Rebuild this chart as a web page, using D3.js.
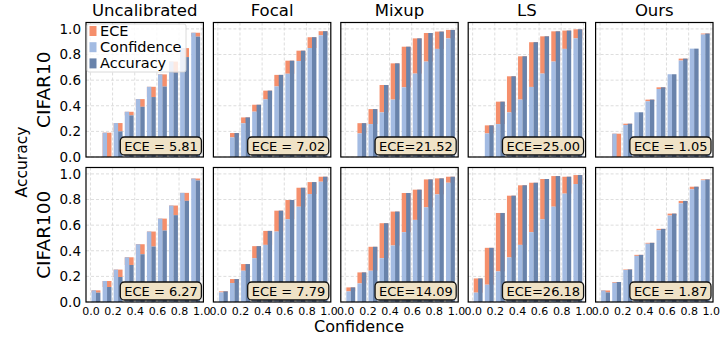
<!DOCTYPE html>
<html>
<head>
<meta charset="utf-8">
<title>Reliability diagrams</title>
<script src="https://cdn.jsdelivr.net/npm/d3@7"></script>
<style>
  body { margin: 0; background: #fff; }
  svg text { font-family: "DejaVu Sans", sans-serif; fill: #000; }
</style>
</head>
<body>
<div id="chart"></div>
<script>
// chart data
var methods = ["Uncalibrated", "Focal", "Mixup", "LS", "Ours"];
var datasets = ["CIFAR10", "CIFAR100"];
var tickVals = [0, 0.2, 0.4, 0.6, 0.8, 1.0];
var binCenters = [0.05, 0.15, 0.25, 0.35, 0.45, 0.55, 0.65, 0.75, 0.85, 0.95];

var eceC10 = ["ECE = 5.81", "ECE = 7.02", "ECE=21.52", "ECE=25.00", "ECE = 1.05"];
var eceC100 = ["ECE = 6.27", "ECE = 7.79", "ECE=14.09", "ECE=26.18", "ECE = 1.87"];

// confidence / accuracy per bin, one row per method
var confC10 = [
  [0, .19, .265, .353, .452, .548, .645, .745, .85, .97],
  [0, .153, .263, .354, .45, .551, .65, .749, .851, .95],
  [0, .184, .257, .348, .448, .544, .651, .745, .844, .926],
  [0, .184, .257, .348, .448, .547, .651, .745, .844, .926],
  [0, .182, .25, .349, .435, .531, .646, .753, .846, .956]
];
var accC10 = [
  [0, 0, .20, .325, .392, .468, .55, .66, .78, .94],
  [0, .187, .309, .408, .518, .641, .752, .83, .935, .982],
  [0, .264, .374, .562, .731, .861, .926, .968, .979, .992],
  [0, .247, .432, .63, .786, .896, .942, .981, .987, .997],
  [0, 0, .26, .349, .448, .544, .646, .768, .846, .964]
];
var confC100 = [
  [.091, .164, .253, .349, .451, .55, .651, .753, .852, .964],
  [.075, .148, .244, .342, .446, .55, .646, .744, .843, .939],
  [.083, .145, .244, .342, .441, .545, .641, .739, .84, .931],
  [.073, .135, .239, .348, .446, .545, .646, .744, .846, .921],
  [.09, .15, .25, .36, .455, .56, .675, .77, .88, .95]
];
var accC100 = [
  [.073, .117, .195, .289, .373, .433, .558, .678, .79, .949],
  [.083, .179, .296, .436, .555, .713, .796, .892, .936, .978],
  [.114, .231, .431, .615, .706, .851, .877, .957, .965, .978],
  [.184, .423, .695, .83, .911, .931, .96, .983, .978, .991],
  [.075, .156, .254, .368, .462, .571, .69, .789, .9, .957]
];

var confAll = [confC10, confC100];
var accAll = [accC10, accC100];
var eceAll = [eceC10, eceC100];

var colConf = "#a3bbe2", colAcc = "#6983ab", colGap = "#f58f6c";

var W = 720, H = 340;
var panelW = 117.4, panelH = 134.5, colStep = 127.4;
var rowTops = [22.5, 167.5];
var left0 = 86;
var bw = 0.04;

var svg = d3.select("#chart").append("svg")
  .attr("width", W).attr("height", H);

datasets.forEach(function(ds, r) {
  methods.forEach(function(m, c) {
    var x0 = left0 + c * colStep, y0 = rowTops[r];
    var x = d3.scaleLinear().domain([-0.04, 1.02]).range([x0, x0 + panelW]);
    var y = d3.scaleLinear().domain([0, 1.05]).range([y0 + panelH, y0]);
    var g = svg.append("g");

    // grid
    g.selectAll(".gx").data(tickVals).enter().append("line")
      .attr("x1", function(d) { return x(d); }).attr("x2", function(d) { return x(d); })
      .attr("y1", y0).attr("y2", y0 + panelH)
      .attr("stroke", "#d4d4d4").attr("stroke-width", 0.8).attr("stroke-dasharray", "3,2");
    g.selectAll(".gy").data(tickVals).enter().append("line")
      .attr("y1", function(d) { return y(d); }).attr("y2", function(d) { return y(d); })
      .attr("x1", x0).attr("x2", x0 + panelW)
      .attr("stroke", "#d4d4d4").attr("stroke-width", 0.8).attr("stroke-dasharray", "3,2");

    var conf = confAll[r][c], acc = accAll[r][c];
    var bins = binCenters.map(function(b, i) { return { c: b, conf: conf[i], acc: acc[i] }; })
      .filter(function(d) { return d.conf > 0 || d.acc > 0; });

    // gap (ECE) under the bars
    g.selectAll(".gap").data(bins).enter().append("rect")
      .attr("x", function(d) { return x(d.c - bw); })
      .attr("width", function(d) { return x(d.c + bw) - x(d.c - bw); })
      .attr("y", function(d) { return y(Math.max(d.conf, d.acc)); })
      .attr("height", function(d) { return y(Math.min(d.conf, d.acc)) - y(Math.max(d.conf, d.acc)); })
      .attr("fill", colGap);
    g.selectAll(".conf").data(bins).enter().append("rect")
      .attr("x", function(d) { return x(d.c - bw); })
      .attr("width", function(d) { return x(d.c) - x(d.c - bw); })
      .attr("y", function(d) { return y(d.conf); })
      .attr("height", function(d) { return y(0) - y(d.conf); })
      .attr("fill", colConf);
    g.selectAll(".acc").data(bins).enter().append("rect")
      .attr("x", function(d) { return x(d.c); })
      .attr("width", function(d) { return x(d.c + bw) - x(d.c); })
      .attr("y", function(d) { return y(d.acc); })
      .attr("height", function(d) { return y(0) - y(d.acc); })
      .attr("fill", colAcc);

    // axes
    if (c === 0) {
      var ay = g.append("g").attr("transform", "translate(" + x0 + ",0)")
        .call(d3.axisLeft(y).tickValues(tickVals).tickFormat(d3.format(".1f")).tickSize(0).tickPadding(5));
      ay.select(".domain").remove();
      ay.selectAll("text").style("font-size", "13.5px").style("font-family", "DejaVu Sans");
    }
    if (r === 1) {
      var ax = g.append("g").attr("transform", "translate(0," + (y0 + panelH) + ")")
        .call(d3.axisBottom(x).tickValues(tickVals).tickFormat(d3.format(".1f")).tickSize(0).tickPadding(5));
      ax.select(".domain").remove();
      ax.selectAll("text").style("font-size", "11px").style("font-family", "DejaVu Sans");
    }

    // panel frame
    g.append("rect").attr("x", x0).attr("y", y0).attr("width", panelW).attr("height", panelH)
      .attr("fill", "none").attr("stroke", "#000").attr("stroke-width", 1.2);

    // ECE box
    var eg = g.append("g");
    var box = eg.append("rect");
    var t = eg.append("text")
      .attr("x", x0 + panelW - 5.5).attr("y", y0 + panelH - 6.5)
      .attr("text-anchor", "end").style("font-size", "13px")
      .text(eceAll[r][c]);
    var bb = t.node().getBBox();
    box.attr("x", bb.x - 4).attr("y", bb.y - 1.5)
      .attr("width", bb.width + 7.5).attr("height", bb.height + 3)
      .attr("rx", 4).attr("fill", "#efe2c6").attr("stroke", "#111").attr("stroke-width", 1.3);

    if (r === 0) {
      svg.append("text").attr("x", x0 + panelW / 2).attr("y", 16)
        .attr("text-anchor", "middle").style("font-size", "16.5px").text(m);
    }
    if (c === 0) {
      svg.append("text")
        .attr("transform", "translate(50," + (y0 + panelH / 2) + ") rotate(-90)")
        .attr("text-anchor", "middle").style("font-size", "18.5px").text(ds);
    }
  });
});

// legend in first panel
var lg = svg.append("g");
lg.append("rect").attr("x", 87).attr("y", 24).attr("width", 99).attr("height", 48)
  .attr("rx", 2).attr("fill", "#fff").attr("fill-opacity", 0.8)
  .attr("stroke", "#d0d0d0").attr("stroke-width", 0.8);
var legItems = [["ECE", colGap], ["Confidence", colConf], ["Accuracy", colAcc]];
legItems.forEach(function(it, i) {
  var cy = 31 + i * 16.2;
  lg.append("rect").attr("x", 89.5).attr("y", cy - 5).attr("width", 7).attr("height", 10).attr("fill", it[1]);
  lg.append("text").attr("x", 100).attr("y", cy + 5).style("font-size", "14.5px").text(it[0]);
});

svg.append("text")
  .attr("transform", "translate(27,162) rotate(-90)")
  .attr("text-anchor", "middle").style("font-size", "15.5px").text("Accuracy");
svg.append("text").attr("x", 359).attr("y", 332)
  .attr("text-anchor", "middle").style("font-size", "16px").text("Confidence");
</script>
</body>
</html>
